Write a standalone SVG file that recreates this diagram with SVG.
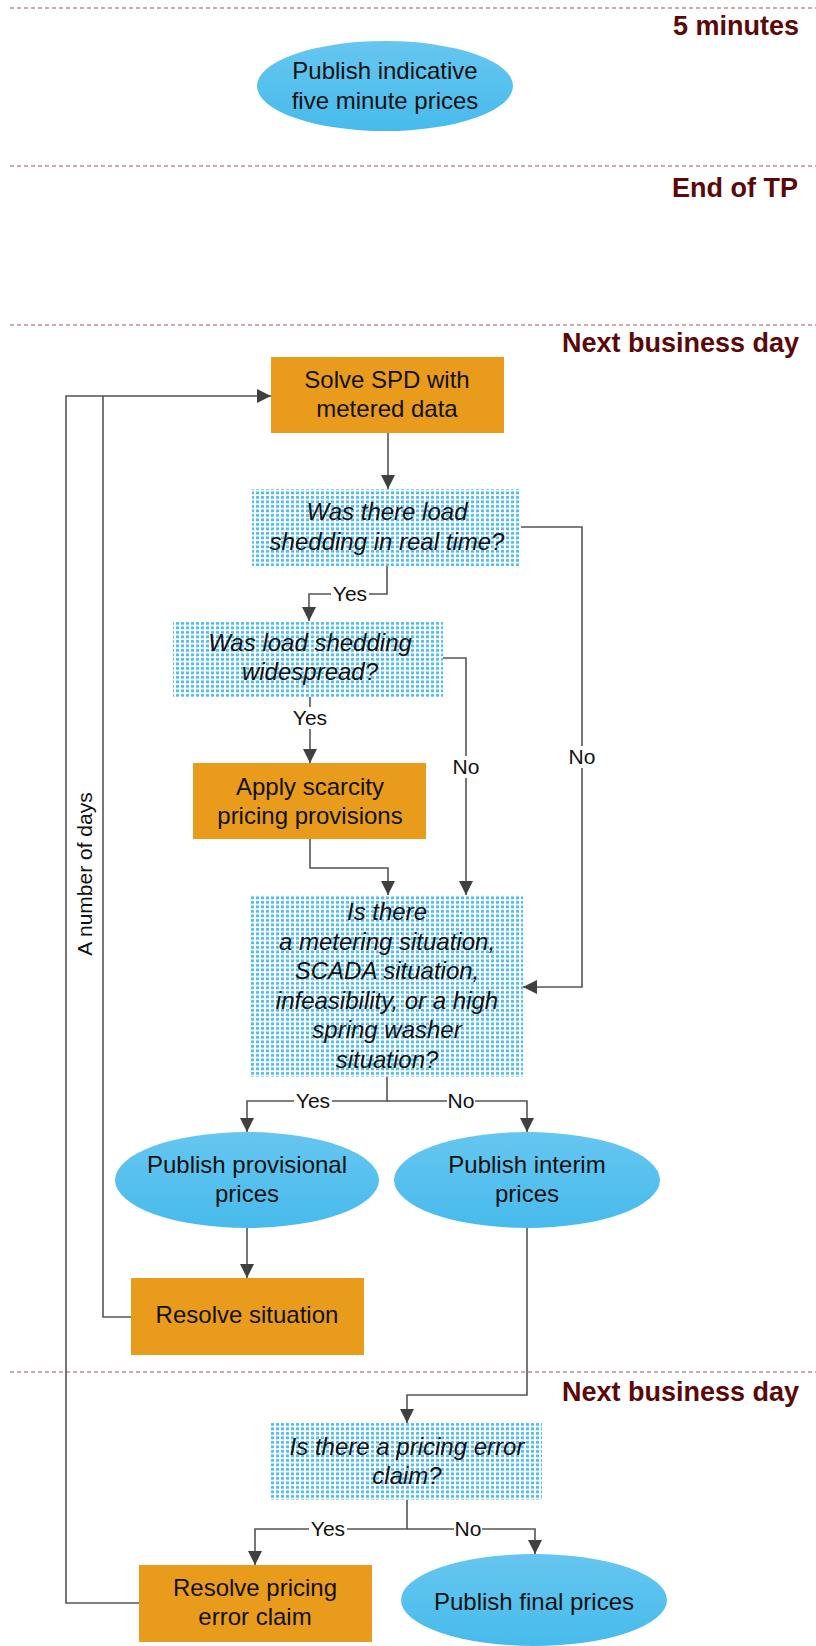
<svg xmlns="http://www.w3.org/2000/svg" width="816" height="1646" viewBox="0 0 816 1646">
<defs>
<style>
.dash{stroke:#9a5858;stroke-width:1.2;stroke-dasharray:4 3;fill:none}
.hdr{font-family:"Liberation Sans",Arial,sans-serif;font-weight:bold;font-size:27px;fill:#5a0808;text-anchor:end}
.t{font-family:"Liberation Sans",Arial,sans-serif;font-size:24px;fill:#111;text-anchor:middle}
.ti{font-family:"Liberation Sans",Arial,sans-serif;font-size:24px;font-style:italic;fill:#111;text-anchor:middle}
.lbl{font-family:"Liberation Sans",Arial,sans-serif;font-size:21px;fill:#111;text-anchor:middle}
.proc{fill:#e99b1b}
.term{fill:url(#blueGrad)}
.dec{fill:url(#dots)}
.conn path{fill:none;stroke:#555;stroke-width:1.6}
.bg{fill:#fff}
</style>
<linearGradient id="blueGrad" x1="0" y1="0" x2="0" y2="1">
<stop offset="0" stop-color="#66c6f0"/>
<stop offset="1" stop-color="#47bbec"/>
</linearGradient>
<pattern id="dots" x="0" y="0" width="5" height="4.5" patternUnits="userSpaceOnUse">
<rect x="0" y="0" width="5" height="4.5" fill="#fff"/>
<rect x="1" y="1" width="3" height="2.8" fill="#4fbdf0"/>
</pattern>
<marker id="arr" markerWidth="14" markerHeight="14" refX="14" refY="7" orient="auto" markerUnits="userSpaceOnUse">
<path d="M0,0 L14,7 L0,14 z" fill="#404040"/>
</marker>
</defs>
<rect width="816" height="1646" fill="#fff"/>

<g id="timeline">
<line class="dash" x1="10" y1="8" x2="816" y2="8"/>
<line class="dash" x1="10" y1="166" x2="816" y2="166"/>
<line class="dash" x1="10" y1="325" x2="816" y2="325"/>
<line class="dash" x1="10" y1="1372" x2="816" y2="1372"/>
<text class="hdr" x="799" y="35">5 minutes</text>
<text class="hdr" x="798" y="197">End of TP</text>
<text class="hdr" x="799" y="352">Next business day</text>
<text class="hdr" x="799" y="1401">Next business day</text>
</g>

<g id="connectors" class="conn">
<path d="M388,433 V489" marker-end="url(#arr)"/>
<path d="M387,566 V594 H309 V621" marker-end="url(#arr)"/>
<path d="M310,697 V763" marker-end="url(#arr)"/>
<path d="M443,658 H466 V895" marker-end="url(#arr)"/>
<path d="M521,527 H582 V987 H523" marker-end="url(#arr)"/>
<path d="M310,839 V868 H388 V895" marker-end="url(#arr)"/>
<path d="M387,1077 V1101 H247 V1132" marker-end="url(#arr)"/>
<path d="M387,1101 H527 V1132" marker-end="url(#arr)"/>
<path d="M247,1228 V1278" marker-end="url(#arr)"/>
<path d="M131,1317 H103 V396"/>
<path d="M527,1228 V1395 H407 V1423" marker-end="url(#arr)"/>
<path d="M407,1500 V1529 H255 V1565" marker-end="url(#arr)"/>
<path d="M407,1529 H535 V1554" marker-end="url(#arr)"/>
<path d="M139,1603 H66 V396 H271" marker-end="url(#arr)"/>
<g id="labels">
<rect class="bg" x="331" y="584" width="38" height="20"/>
<text class="lbl" x="350" y="601">Yes</text>
<rect class="bg" x="291" y="707" width="38" height="22"/>
<text class="lbl" x="310" y="725">Yes</text>
<rect class="bg" x="452" y="756" width="28" height="22"/>
<text class="lbl" x="466" y="774">No</text>
<rect class="bg" x="568" y="746" width="28" height="22"/>
<text class="lbl" x="582" y="764">No</text>
<rect class="bg" x="294" y="1091" width="38" height="20"/>
<text class="lbl" x="313" y="1108">Yes</text>
<rect class="bg" x="447" y="1091" width="28" height="20"/>
<text class="lbl" x="461" y="1108">No</text>
<rect class="bg" x="309" y="1519" width="38" height="20"/>
<text class="lbl" x="328" y="1536">Yes</text>
<rect class="bg" x="454" y="1519" width="28" height="20"/>
<text class="lbl" x="468" y="1536">No</text>
<rect class="bg" x="74" y="786" width="22" height="176"/>
<text class="lbl" x="0" y="0" transform="translate(92,874) rotate(-90)">A number of days</text>
</g>
</g>

<g id="n-indicative">
<ellipse class="term" cx="385" cy="86" rx="128" ry="45"/>
<text class="t" x="385" y="79">Publish indicative</text>
<text class="t" x="385" y="109">five minute prices</text>
</g>

<g id="n-solve">
<rect class="proc" x="271" y="357" width="233" height="76"/>
<text class="t" x="387" y="388">Solve SPD with</text>
<text class="t" x="387" y="417">metered data</text>
</g>

<g id="n-d1">
<rect class="dec" x="252" y="489" width="269" height="77"/>
<text class="ti" x="387" y="520">Was there load</text>
<text class="ti" x="387" y="550">shedding in real time?</text>
</g>

<g id="n-d2">
<rect class="dec" x="173" y="621" width="270" height="76"/>
<text class="ti" x="310" y="651">Was load shedding</text>
<text class="ti" x="310" y="680">widespread?</text>
</g>

<g id="n-scarcity">
<rect class="proc" x="193" y="763" width="233" height="76"/>
<text class="t" x="310" y="795">Apply scarcity</text>
<text class="t" x="310" y="824">pricing provisions</text>
</g>

<g id="n-d3">
<rect class="dec" x="251" y="895" width="272" height="182"/>
<text class="ti" x="387" y="920">Is there</text>
<text class="ti" x="387" y="950">a metering situation,</text>
<text class="ti" x="387" y="979">SCADA situation,</text>
<text class="ti" x="387" y="1009">infeasibility, or a high</text>
<text class="ti" x="387" y="1038">spring washer</text>
<text class="ti" x="387" y="1068">situation?</text>
</g>

<g id="n-provisional">
<ellipse class="term" cx="247" cy="1180" rx="132" ry="48"/>
<text class="t" x="247" y="1173">Publish provisional</text>
<text class="t" x="247" y="1202">prices</text>
</g>

<g id="n-interim">
<ellipse class="term" cx="527" cy="1180" rx="133" ry="48"/>
<text class="t" x="527" y="1173">Publish interim</text>
<text class="t" x="527" y="1202">prices</text>
</g>

<g id="n-resolve">
<rect class="proc" x="131" y="1278" width="233" height="77"/>
<text class="t" x="247" y="1323">Resolve situation</text>
</g>

<g id="n-d4">
<rect class="dec" x="271" y="1423" width="271" height="77"/>
<text class="ti" x="407" y="1455">Is there a pricing error</text>
<text class="ti" x="407" y="1484">claim?</text>
</g>

<g id="n-resolve-claim">
<rect class="proc" x="139" y="1565" width="233" height="77"/>
<text class="t" x="255" y="1596">Resolve pricing</text>
<text class="t" x="255" y="1625">error claim</text>
</g>

<g id="n-final">
<ellipse class="term" cx="534" cy="1600" rx="133" ry="46"/>
<text class="t" x="534" y="1610">Publish final prices</text>
</g>
</svg>
